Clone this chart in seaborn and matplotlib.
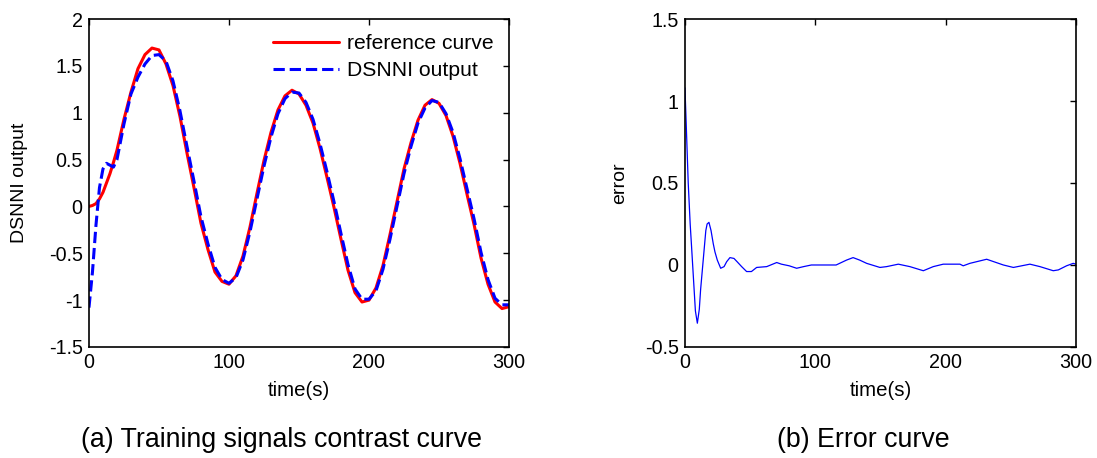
import pandas as pd
import matplotlib
matplotlib.use('Agg')
import matplotlib.pyplot as plt
import seaborn as sns

# time grid for the training signals (s)
time = [0, 2.5, 5, 7.5, 10, 12.5, 15, 17.5, 20, 25, 30, 35, 40, 45, 50, 55, 60,
        65, 70, 75, 80, 85, 90, 95, 100, 105, 110, 115, 120, 125, 130, 135, 140,
        145, 150, 155, 160, 165, 170, 175, 180, 185, 190, 195, 200, 205, 210,
        215, 220, 225, 230, 235, 240, 245, 250, 255, 260, 265, 270, 275, 280,
        285, 290, 295, 300]

reference_curve = [0.0, 0.01, 0.03, 0.08, 0.15, 0.25, 0.35, 0.47, 0.60, 0.93,
                   1.22, 1.47, 1.62, 1.69, 1.67, 1.52, 1.29, 0.96, 0.57, 0.20,
                   -0.18, -0.46, -0.70, -0.80, -0.83, -0.74, -0.53, -0.22, 0.14,
                   0.49, 0.79, 1.03, 1.18, 1.24, 1.20, 1.08, 0.89, 0.62, 0.31,
                   -0.01, -0.35, -0.68, -0.92, -1.02, -1.00, -0.87, -0.63, -0.30,
                   0.05, 0.40, 0.68, 0.92, 1.08, 1.14, 1.10, 0.97, 0.75, 0.46,
                   0.13, -0.19, -0.55, -0.83, -1.02, -1.09, -1.07]

dsnni_output = [-1.08, -0.70, -0.20, 0.20, 0.40, 0.46, 0.44, 0.42, 0.50, 0.88,
                1.20, 1.38, 1.52, 1.61, 1.62, 1.55, 1.34, 1.02, 0.64, 0.27,
                -0.11, -0.40, -0.65, -0.78, -0.82, -0.76, -0.57, -0.27, 0.08,
                0.43, 0.74, 0.99, 1.15, 1.22, 1.21, 1.11, 0.93, 0.67, 0.37,
                0.05, -0.29, -0.62, -0.88, -0.99, -0.99, -0.90, -0.67, -0.35,
                0.00, 0.35, 0.64, 0.89, 1.05, 1.13, 1.11, 0.99, 0.79, 0.51,
                0.19, -0.13, -0.49, -0.78, -0.98, -1.05, -1.05]

# error curve
err_time = [0, 1, 2.5, 4, 5, 6.5, 8, 9.5, 11, 12, 14, 16, 17, 18.4, 20, 21.7,
            23, 24.8, 27.4, 30, 32, 34.5, 37.6, 40, 43.5, 47.3, 51, 55, 62.7,
            70.4, 74, 80, 85.7, 91, 97, 105, 116, 124, 129, 134, 139.4, 149.6,
            154.7, 163.7, 172.6, 182.9, 190.5, 198.2, 211, 213.5, 218.6, 231.5,
            244.3, 252, 264.7, 272.4, 282.6, 286.5, 292.8, 297.9, 300]
error = [1.08, 0.85, 0.50, 0.25, 0.12, -0.08, -0.28, -0.355, -0.27, -0.15,
         0.03, 0.21, 0.25, 0.26, 0.21, 0.13, 0.08, 0.03, -0.02, -0.01, 0.02,
         0.045, 0.04, 0.02, -0.01, -0.04, -0.04, -0.015, -0.01, 0.015, 0.005,
         -0.005, -0.02, -0.01, 0.0, 0.0, 0.0, 0.03, 0.045, 0.03, 0.01, -0.015,
         -0.01, 0.005, -0.01, -0.035, -0.01, 0.005, 0.005, -0.005, 0.01, 0.035,
         0.0, -0.015, 0.005, -0.01, -0.035, -0.03, -0.005, 0.01, 0.005]

sns.set_style('white')
plt.rcParams['font.family'] = ['Liberation Sans', 'DejaVu Sans']
plt.rcParams['text.color'] = 'black'
plt.rcParams['axes.labelcolor'] = 'black'
plt.rcParams['xtick.color'] = 'black'
plt.rcParams['ytick.color'] = 'black'

df = pd.DataFrame({'time': time, 'ref': reference_curve, 'out': dsnni_output})
df_err = pd.DataFrame({'time': err_time, 'error': error})

fig = plt.figure(figsize=(10.97, 4.58), dpi=100)
ax1 = fig.add_axes([0.0811, 0.2424, 0.3829, 0.7161])
ax2 = fig.add_axes([0.6244, 0.2424, 0.3564, 0.7161])

# (a) training signals
sns.lineplot(data=df, x='time', y='ref', ax=ax1, color='red', linewidth=2.2,
             label='reference curve')
sns.lineplot(data=df, x='time', y='out', ax=ax1, color='blue', linewidth=2.2,
             linestyle='--', dashes=(3.0, 1.5), label='DSNNI output')
ax1.set_xlim(0, 300)
ax1.set_ylim(-1.5, 2)
ax1.set_xticks([0, 100, 200, 300])
ax1.set_yticks([-1.5, -1, -0.5, 0, 0.5, 1, 1.5, 2])
ax1.set_yticklabels(['-1.5', '-1', '-0.5', '0', '0.5', '1', '1.5', '2'])
ax1.set_xlabel('time(s)', fontsize=14.7)
ax1.set_ylabel('DSNNI output', fontsize=14)
ax1.legend(loc='upper left', bbox_to_anchor=(0.438, 0.953), frameon=False,
           fontsize=15.2, handlelength=3.15, handletextpad=0.38,
           labelspacing=0.38, borderpad=0, borderaxespad=0)

# (b) error
sns.lineplot(data=df_err, x='time', y='error', ax=ax2, color='blue', linewidth=0.9)
ax2.set_xlim(0, 300)
ax2.set_ylim(-0.5, 1.5)
ax2.set_xticks([0, 100, 200, 300])
ax2.set_yticks([-0.5, 0, 0.5, 1, 1.5])
ax2.set_yticklabels(['-0.5', '0', '0.5', '1', '1.5'])
ax2.set_xlabel('time(s)', fontsize=14.7)
ax2.set_ylabel('error', fontsize=14)

for ax in (ax1, ax2):
    ax.tick_params(direction='in', length=4, width=1, labelsize=14.2,
                   top=True, right=True, colors='black', pad=4.5)
    for s in ax.spines.values():
        s.set_visible(True)
        s.set_color('black')
        s.set_linewidth(1.2)
    ax.xaxis.set_label_coords(0.5, -0.105)
    ax.yaxis.set_label_coords(-0.145, 0.5)

fig.text(0.257, 0.039, '(a) Training signals contrast curve', fontsize=19.3,
         ha='center', va='center')
fig.text(0.787, 0.039, '(b) Error curve', fontsize=19.3, ha='center', va='center')

fig.savefig('out.png', dpi=100)
